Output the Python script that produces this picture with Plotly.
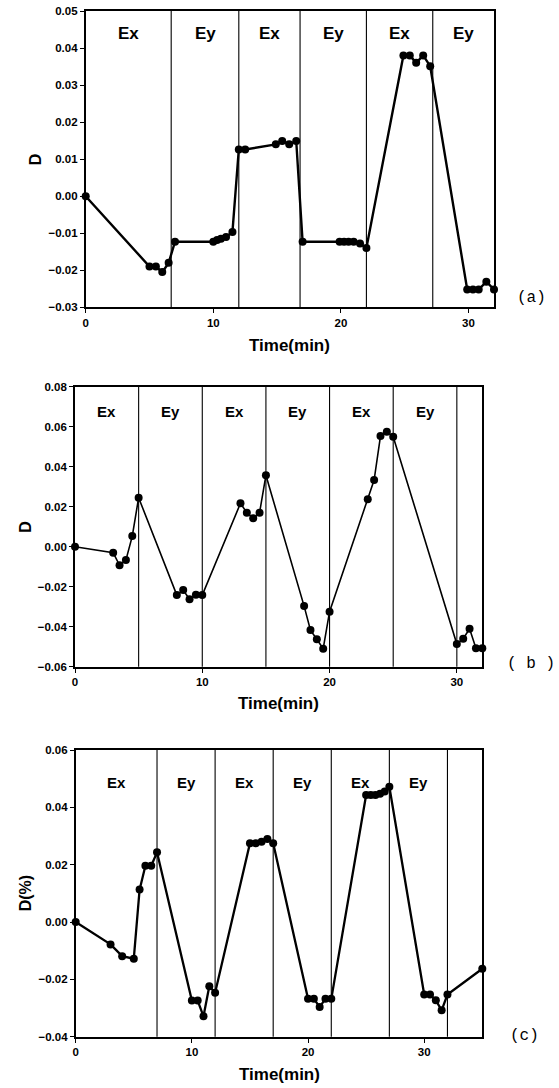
import plotly.graph_objects as go

# ---------------- data ----------------
# Panel (a)
time_a = [0, 5.0, 5.5, 6.0, 6.5, 7.0, 10.0, 10.3, 10.6, 11.0, 11.5, 12.0, 12.5,
          14.9, 15.4, 15.95, 16.5, 17.0, 19.9, 20.25, 20.6, 21.0, 21.5, 22.0,
          24.9, 25.4, 25.9, 26.45, 27.0, 29.9, 30.35, 30.8, 31.4, 32.0]
D_a = [0.0, -0.019, -0.019, -0.0205, -0.018, -0.0123, -0.0123, -0.0118, -0.0115, -0.011, -0.0097,
       0.0126, 0.0126, 0.014, 0.0149, 0.014, 0.0149, -0.0123, -0.0123, -0.0123, -0.0123, -0.0123,
       -0.0128, -0.014, 0.038, 0.038, 0.036, 0.038, 0.0351, -0.0252, -0.0252, -0.0252, -0.0231, -0.0252]
bounds_a = [6.7, 12.0, 16.8, 22.0, 27.2]
labels_a = ["Ex", "Ey", "Ex", "Ey", "Ex", "Ey"]

# Panel (b)
time_b = [0, 3.0, 3.5, 4.0, 4.5, 5.0, 8.0, 8.5, 9.0, 9.5, 10.0, 13.0, 13.5, 14.0, 14.5, 15.0,
          18.0, 18.5, 19.0, 19.5, 20.0, 23.0, 23.5, 24.0, 24.5, 25.0, 30.0, 30.5, 31.0, 31.5, 32.0]
D_b = [0.0, -0.003, -0.0093, -0.0067, 0.0053, 0.0245, -0.0242, -0.0217, -0.0263, -0.024, -0.0242,
       0.0217, 0.017, 0.0142, 0.017, 0.0357, -0.0297, -0.0417, -0.0463, -0.051, -0.0325,
       0.0237, 0.0333, 0.0553, 0.0575, 0.055, -0.0487, -0.046, -0.041, -0.0508, -0.0508]
bounds_b = [5, 10, 15, 20, 25, 30]
labels_b = ["Ex", "Ey", "Ex", "Ey", "Ex", "Ey"]

# Panel (c)
time_c = [0, 3.0, 4.0, 5.0, 5.5, 6.0, 6.5, 7.0, 10.0, 10.5, 11.0, 11.5, 12.0,
          15.0, 15.5, 16.0, 16.5, 17.0, 20.0, 20.5, 21.0, 21.5, 22.0,
          25.0, 25.4, 25.8, 26.2, 26.6, 27.0, 30.0, 30.5, 31.0, 31.5, 32.0, 35.0]
D_c = [0.0, -0.0078, -0.0119, -0.0128, 0.0113, 0.0196, 0.0196, 0.0243,
       -0.0274, -0.0274, -0.0329, -0.0224, -0.0247,
       0.0275, 0.0275, 0.028, 0.029, 0.0275,
       -0.0268, -0.0268, -0.0296, -0.0268, -0.0268,
       0.0443, 0.0443, 0.0443, 0.0447, 0.0455, 0.0472,
       -0.0253, -0.0253, -0.0273, -0.0308, -0.0253, -0.0163]
bounds_c = [7, 12, 17, 22, 27, 32]
labels_c = ["Ex", "Ey", "Ex", "Ey", "Ex", "Ey"]

x_ticks = [0, 10, 20, 30]

# ---------------- layout config ----------------
W, H = 559, 1088
FONT = "Liberation Sans, Arial, sans-serif"

panels = [
    dict(t=time_a, d=D_a, bounds=bounds_a, labels=labels_a, xr=[0, 32], yr=[-0.03, 0.05], dy=0.01,
         px=(85.7, 494.0), py=(11.0, 307.3), ytitle="D", ytx=35, xty=345,
         tag="(a)", tagpos=(531, 298), lab_y=0.925, lab_size=17, lw=2.4),
    dict(t=time_b, d=D_b, bounds=bounds_b, labels=labels_b, xr=[0, 32], yr=[-0.06, 0.08], dy=0.02,
         px=(75.0, 482.3), py=(386.7, 666.7), ytitle="D", ytx=26, xty=703,
         tag="( b )", tagpos=(531, 664), lab_y=0.91, lab_size=15, lw=1.6),
    dict(t=time_c, d=D_c, bounds=bounds_c, labels=labels_c, xr=[0, 35], yr=[-0.04, 0.06], dy=0.02,
         px=(75.7, 482.3), py=(750.0, 1036.7), ytitle="D(%)", ytx=25, xty=1074,
         tag="(c)", tagpos=(524, 1036), lab_y=0.885, lab_size=15, lw=2.3),
]

fig = go.Figure()
layout = dict(
    width=W, height=H, template="none",
    paper_bgcolor="white", plot_bgcolor="white",
    margin=dict(l=0, r=0, t=0, b=0),
    showlegend=False,
    font=dict(family=FONT, color="black"),
)
shapes, annotations = [], []

for i, p in enumerate(panels, start=1):
    xa = "x" if i == 1 else f"x{i}"
    ya = "y" if i == 1 else f"y{i}"
    xkey = "xaxis" if i == 1 else f"xaxis{i}"
    ykey = "yaxis" if i == 1 else f"yaxis{i}"

    fig.add_trace(go.Scatter(
        x=p["t"], y=p["d"], mode="lines+markers", xaxis=xa, yaxis=ya,
        line=dict(color="black", width=p["lw"]),
        marker=dict(color="black", size=8, symbol="circle"),
        cliponaxis=False,
    ))

    x0, x1 = p["px"]
    y0, y1 = p["py"]
    axis_common = dict(
        showline=True, mirror=True, linecolor="black", linewidth=1.7,
        ticks="outside", ticklen=4, tickwidth=1.4, tickcolor="black",
        showgrid=False, zeroline=False, automargin=False,
        tickfont=dict(family=FONT, size=11.5, color="black", weight="bold"),
    )
    layout[xkey] = dict(
        axis_common, domain=[x0 / W, x1 / W], anchor=ya, range=p["xr"],
        tickvals=x_ticks, ticktext=[str(v) for v in x_ticks],
    )
    layout[ykey] = dict(
        axis_common, domain=[1 - y1 / H, 1 - y0 / H], anchor=xa, range=p["yr"],
        dtick=p["dy"], tick0=0, tickformat=".2f",
    )

    # axis titles
    annotations.append(dict(
        x=(x0 + x1) / 2 / W, y=1 - p["xty"] / H, xref="paper", yref="paper",
        text="Time(min)", showarrow=False, xanchor="center", yanchor="middle",
        font=dict(family=FONT, size=17, weight="bold", color="black"),
    ))
    annotations.append(dict(
        x=p["ytx"] / W, y=1 - (y0 + y1) / 2 / H, xref="paper", yref="paper",
        text=p["ytitle"], textangle=-90, showarrow=False, xanchor="center", yanchor="middle",
        font=dict(family=FONT, size=16, weight="bold", color="black"),
    ))

    # region boundaries
    for b in p["bounds"]:
        shapes.append(dict(type="line", xref=xa, yref=f"{ya} domain", x0=b, x1=b, y0=0, y1=1,
                           line=dict(color="black", width=1.1)))
    # region labels
    edges = [p["xr"][0]] + p["bounds"] + [p["xr"][1]]
    for k, lab in enumerate(p["labels"]):
        annotations.append(dict(
            x=(edges[k] + edges[k + 1]) / 2, y=p["lab_y"], xref=xa, yref=f"{ya} domain",
            text=lab, showarrow=False, xanchor="center", yanchor="middle",
            font=dict(family=FONT, size=p["lab_size"], weight="bold", color="black"),
        ))
    # panel tag
    annotations.append(dict(
        x=p["tagpos"][0] / W, y=1 - p["tagpos"][1] / H, xref="paper", yref="paper",
        text=p["tag"], showarrow=False, xanchor="center", yanchor="middle",
        font=dict(family="Liberation Mono, monospace", size=16, color="black"),
    ))

layout["shapes"] = shapes
layout["annotations"] = annotations
fig.update_layout(**layout)
fig.write_html(
    "out.html",
    config={"displayModeBar": False},
    post_script="document.body.style.margin='0';document.body.style.overflow='hidden';",
)
